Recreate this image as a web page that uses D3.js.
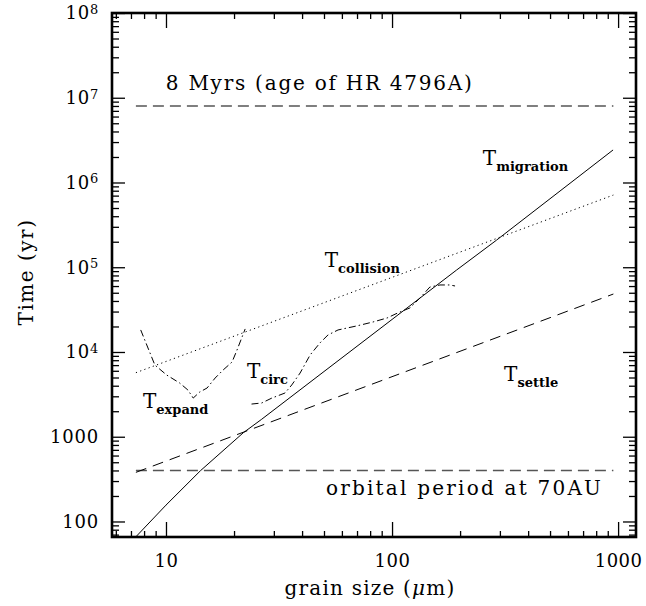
<!DOCTYPE html>
<html lang="en">
<head>
<meta charset="utf-8">
<script src="https://d3js.org/d3.v7.min.js"></script>
<style>
  body { margin: 0; background: #fff; }
  svg text { font-family: "DejaVu Serif", serif; fill: #000; }
</style>
</head>
<body>
<script>
// Timescales vs grain size (size in micron, time in yr)
var migSize = [7.0, 7.36, 10, 14.2, 22.0, 26.5, 50, 100, 193, 290, 950];
var migTime = [57, 66, 156, 397, 1117, 1607, 5880, 24200, 92700, 209000, 2420000];

var colSize = [7.36, 953];
var colTime = [5700, 711000];

var setSize = [7.36, 953];
var setTime = [380, 48300];

var expSize = [7.73, 8.93, 10.07, 11.5, 12.5, 13.2, 14.1, 15.2, 16.5, 17.9, 19.6, 20.6, 21.7, 22.4];
var expTime = [18200, 7010, 5350, 4300, 3560, 2860, 3370, 3760, 4930, 6130, 7620, 10500, 15000, 18700];

var circSize = [23.9, 26.5, 29.4, 33.6, 36.0, 39.2, 43.4, 48.0, 52.1, 57.7, 69.8, 82.4, 95.1, 106, 120, 133, 147, 163, 180, 190];
var circTime = [2430, 2500, 2860, 3280, 4080, 5650, 9210, 12800, 15900, 18200, 20300, 22600, 25200, 28900, 33100, 43400, 58400, 61800, 61800, 60100];

var hLineSize = [7.36, 953];
var ageTime = 8e6;
var orbitTime = 400;

var xMajor = [10, 100, 1000];
var xMinor = [6, 7, 8, 9, 20, 30, 40, 50, 60, 70, 80, 90, 200, 300, 400, 500, 600, 700, 800, 900];
var yMajor = [100, 1e3, 1e4, 1e5, 1e6, 1e7, 1e8];
var yMinor = [70, 80, 90];
[100, 1e3, 1e4, 1e5, 1e6, 1e7].forEach(function(d) {
  for (var k = 2; k <= 9; k++) yMinor.push(d * k);
});

var w = 646, h = 606;
var pL = 112, pR = 636, pT = 13, pB = 537;

var x = d3.scaleLog().domain([5.77, 1200]).range([pL, pR]);
var y = d3.scaleLog().domain([65.6, 1e8]).range([pB, pT]);

var svg = d3.select("body").append("svg")
  .attr("width", w)
  .attr("height", h);

svg.append("defs").append("clipPath").attr("id", "plot")
  .append("rect")
  .attr("x", pL).attr("y", pT)
  .attr("width", pR - pL).attr("height", pB - pT);

// ticks on all four sides, pointing inward
function ticks(axis, vals, size, tx, ty, labels, pad) {
  var g = svg.append("g").attr("transform", "translate(" + tx + "," + ty + ")")
    .call(axis.tickValues(vals).tickSizeInner(-size).tickSizeOuter(0)
      .tickPadding(pad || 0).tickFormat(labels ? labels : function() { return ""; }));
  g.select(".domain").remove();
  g.selectAll("line").attr("stroke-width", 1.3);
  return g;
}

var xb = ticks(d3.axisBottom(x), xMajor, 15, 0, pB, function(d) { return String(d); }, 11);
ticks(d3.axisBottom(x), xMinor, 6, 0, pB);
ticks(d3.axisTop(x), xMajor, 15, 0, pT);
ticks(d3.axisTop(x), xMinor, 6, 0, pT);
var yl = ticks(d3.axisLeft(y), yMajor, 13, pL, 0, function(d) { return String(d); }, 13);
ticks(d3.axisLeft(y), yMinor, 7, pL, 0);
ticks(d3.axisRight(y), yMajor, 13, pR, 0);
ticks(d3.axisRight(y), yMinor, 7, pR, 0);

xb.selectAll("text").attr("font-size", 18).attr("font-family", "DejaVu Serif")
  .attr("letter-spacing", 0.5).attr("dy", "1.05em");
yl.selectAll("text").attr("font-size", 18).attr("font-family", "DejaVu Serif")
  .attr("letter-spacing", 0.8)
  .each(function(d) {
    if (d >= 1e4) {
      var t = d3.select(this).text("");
      t.append("tspan").text("10");
      t.append("tspan").attr("dy", "-0.42em").attr("font-size", "0.72em")
        .text(Math.round(Math.log10(d)));
    }
  });

// frame
svg.append("rect")
  .attr("x", pL).attr("y", pT)
  .attr("width", pR - pL).attr("height", pB - pT)
  .attr("fill", "none").attr("stroke", "#000").attr("stroke-width", 2.6);

var plot = svg.append("g").attr("clip-path", "url(#plot)");

function curve(sizes, times, dash, color, width) {
  var pts = sizes.map(function(s, i) { return [s, times[i]]; });
  plot.append("path")
    .datum(pts)
    .attr("fill", "none")
    .attr("stroke", color || "#000")
    .attr("stroke-width", width || 1)
    .attr("stroke-dasharray", dash)
    .attr("d", d3.line().x(function(d) { return x(d[0]); }).y(function(d) { return y(d[1]); }));
}

curve(hLineSize, [ageTime, ageTime], "11,6", "#555", 1.6);
curve(hLineSize, [orbitTime, orbitTime], "11,6", "#555", 1.6);
curve(migSize, migTime, null);
curve(colSize, colTime, "1.2,3.3");
curve(setSize, setTime, "11,7");
curve(expSize, expTime, "7,3,1.5,3");
curve(circSize, circTime, "7,3,1.5,3");

// annotations placed in data coordinates
function label(px, py, main, sub) {
  var t = svg.append("text").attr("x", x(px)).attr("y", y(py)).attr("font-size", 20);
  t.append("tspan").text(main);
  if (sub) t.append("tspan").attr("dy", 6).attr("font-size", 13).attr("font-weight", "bold").text(sub);
}
label(50.4, 100700, "T", "collision");
label(252, 1.61e6, "T", "migration");
label(22.8, 4930, "T", "circ");
label(7.91, 2180, "T", "expand");
label(313, 4550, "T", "settle");

svg.append("text").attr("x", x(9.98)).attr("y", y(1.23e7))
  .attr("font-size", 20).attr("textLength", 306).text("8 Myrs (age of HR 4796A)");
svg.append("text").attr("x", x(51)).attr("y", y(205))
  .attr("font-size", 20).attr("textLength", 275).text("orbital period at 70AU");

// axis titles
var xt = svg.append("text").attr("x", 370).attr("y", 595)
  .attr("text-anchor", "middle").attr("font-size", 20).attr("letter-spacing", 1.2);
xt.append("tspan").text("grain size (");
xt.append("tspan").attr("font-style", "italic").text("\u03bc");
xt.append("tspan").text("m)");

svg.append("text")
  .attr("transform", "translate(33," + 272 + ") rotate(-90)")
  .attr("text-anchor", "middle").attr("font-size", 20).attr("letter-spacing", 1.5)
  .text("Time (yr)");
</script>
</body>
</html>
